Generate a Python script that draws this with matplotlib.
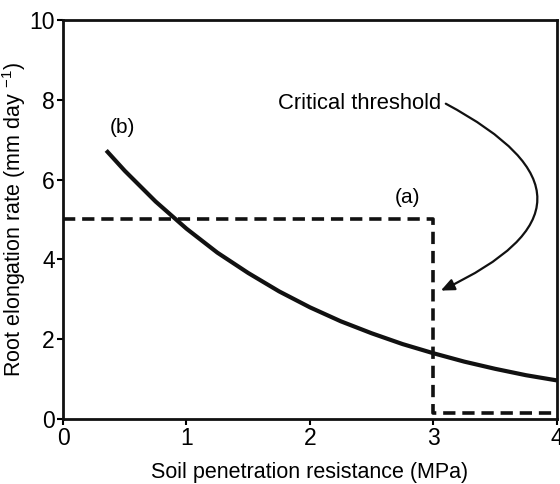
import matplotlib
matplotlib.use('Agg')
import matplotlib.pyplot as plt

plt.rcParams['font.family'] = ['Liberation Sans', 'DejaVu Sans']
plt.rcParams['mathtext.default'] = 'regular'

# curve (b): root elongation rate
res_b = [0.35, 0.5, 0.75, 1.0, 1.25, 1.5, 1.75, 2.0, 2.25, 2.5, 2.75, 3.0, 3.25, 3.5, 3.75, 4.0]
rate_b = [6.73, 6.22, 5.45, 4.77, 4.17, 3.66, 3.20, 2.80, 2.45, 2.15, 1.88, 1.65, 1.44, 1.26, 1.10, 0.97]

# step (a): threshold model
res_a = [0.0, 3.0, 3.0, 4.0]
rate_a = [5.0, 5.0, 0.15, 0.15]

xticks = [0, 1, 2, 3, 4]
yticks = [0, 2, 4, 6, 8, 10]

fig = plt.figure(figsize=(5.6, 4.84), dpi=100)
ax = fig.add_axes([0.1125, 0.134, 0.882, 0.825])

ax.plot(res_b, rate_b, color='#111111', lw=3, solid_capstyle='butt')
ax.plot(res_a, rate_a, color='#111111', lw=2.6, linestyle=(0, (3.4, 1.9)))

ax.text(0.48, 7.3, '(b)', fontsize=15, ha='center', va='center')
ax.text(2.79, 5.55, '(a)', fontsize=15, ha='center', va='center')
ax.text(3.06, 7.9, 'Critical threshold', fontsize=15.8, ha='right', va='center')
ax.annotate('', xy=(3.06, 3.22), xytext=(3.1, 7.9),
            arrowprops=dict(arrowstyle='-|>,head_length=0.8,head_width=0.35',
                            color='#111111', lw=1.6,
                            connectionstyle='arc3,rad=-1.0',
                            shrinkA=0, shrinkB=0))

ax.set_xlim(0, 4)
ax.set_ylim(0, 10)
ax.set_xticks(xticks)
ax.set_yticks(yticks)
ax.tick_params(direction='out', length=4, width=1.5, labelsize=16.5, pad=2)
for s in ax.spines.values():
    s.set_linewidth(2)
    s.set_color('#111111')

ax.set_xlabel('Soil penetration resistance (MPa)', fontsize=15.5, labelpad=8)
ax.set_ylabel('Root elongation rate (mm day $^{-1}$)', fontsize=15.5, labelpad=1)

fig.savefig('out.png', dpi=100)
